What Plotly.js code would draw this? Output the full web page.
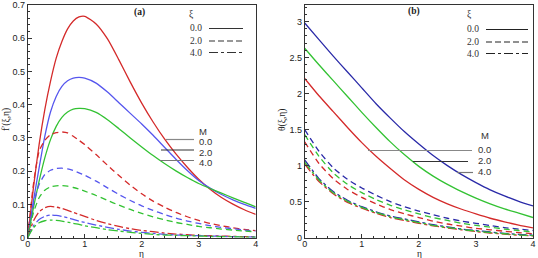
<!DOCTYPE html>
<html>
<head>
<meta charset="utf-8">
<script src="https://cdn.plot.ly/plotly-3.0.1.min.js"></script>
<style>html,body{margin:0;padding:0;background:#fff;}#chart{width:538px;height:258px;}</style>
</head>
<body>
<div id="chart"></div>
<script>
// ---- Data: panel (a) velocity profiles f'(xi,eta) ----
const etaA = [0,0.1,0.2,0.3,0.4,0.5,0.6,0.7,0.8,0.9,1.0,1.2,1.4,1.6,1.8,2.0,2.2,2.4,2.6,2.8,3.0,3.2,3.4,3.6,3.8,4.0];
// xi = 0.0 (solid)
const fA_M0_xi0 = [0,0.15,0.28,0.385,0.47,0.54,0.59,0.628,0.652,0.664,0.666,0.643,0.598,0.535,0.468,0.405,0.348,0.297,0.252,0.212,0.176,0.146,0.121,0.101,0.084,0.07];
const fA_M2_xi0 = [0,0.11,0.21,0.305,0.378,0.425,0.455,0.472,0.48,0.482,0.48,0.465,0.438,0.406,0.374,0.342,0.308,0.272,0.236,0.202,0.172,0.149,0.13,0.114,0.1,0.088];
const fA_M4_xi0 = [0,0.09,0.17,0.24,0.295,0.335,0.362,0.378,0.387,0.389,0.388,0.377,0.355,0.328,0.3,0.273,0.247,0.223,0.201,0.181,0.163,0.148,0.134,0.12,0.106,0.093];
// xi = 2.0 (dashed)
const fA_M0_xi2 = [0,0.16,0.26,0.293,0.31,0.316,0.318,0.315,0.305,0.293,0.28,0.25,0.218,0.187,0.158,0.132,0.11,0.092,0.076,0.063,0.052,0.043,0.036,0.03,0.025,0.021];
const fA_M2_xi2 = [0,0.1,0.16,0.19,0.203,0.208,0.209,0.207,0.202,0.195,0.188,0.17,0.15,0.13,0.112,0.096,0.082,0.07,0.059,0.05,0.043,0.036,0.031,0.027,0.023,0.02];
const fA_M4_xi2 = [0,0.075,0.12,0.143,0.153,0.156,0.157,0.155,0.151,0.146,0.14,0.127,0.112,0.098,0.085,0.073,0.063,0.054,0.046,0.04,0.034,0.03,0.026,0.023,0.02,0.018];
// xi = 4.0 (dash-dot)
const fA_M0_xi4 = [0,0.05,0.078,0.09,0.094,0.092,0.088,0.082,0.076,0.07,0.064,0.052,0.042,0.034,0.027,0.022,0.018,0.014,0.011,0.009,0.007,0.006,0.005,0.004,0.003,0.003];
const fA_M2_xi4 = [0,0.035,0.055,0.064,0.068,0.067,0.064,0.06,0.055,0.05,0.046,0.038,0.031,0.025,0.02,0.016,0.013,0.01,0.008,0.007,0.006,0.005,0.004,0.003,0.003,0.002];
const fA_M4_xi4 = [0,0.03,0.045,0.051,0.053,0.052,0.05,0.047,0.043,0.04,0.036,0.03,0.024,0.02,0.016,0.013,0.01,0.008,0.007,0.006,0.005,0.004,0.003,0.003,0.002,0.002];

// ---- Data: panel (b) temperature profiles theta(xi,eta) ----
const etaB = [0,0.25,0.5,0.75,1.0,1.25,1.5,1.75,2.0,2.25,2.5,2.75,3.0,3.25,3.5,3.75,4.0];
const tB_M0_xi0 = [2.21,1.97,1.75,1.53,1.32,1.13,0.96,0.8,0.67,0.56,0.47,0.395,0.33,0.27,0.22,0.175,0.135];
const tB_M2_xi0 = [2.98,2.75,2.52,2.3,2.08,1.86,1.66,1.47,1.3,1.14,1.0,0.875,0.765,0.665,0.58,0.505,0.44];
const tB_M4_xi0 = [2.63,2.4,2.18,1.96,1.74,1.53,1.33,1.15,0.99,0.855,0.74,0.64,0.55,0.47,0.4,0.34,0.28];
const tB_M0_xi2 = [1.33,1.03,0.82,0.67,0.56,0.47,0.39,0.33,0.28,0.23,0.19,0.16,0.13,0.11,0.09,0.07,0.055];
const tB_M2_xi2 = [1.5,1.2,0.97,0.81,0.69,0.59,0.5,0.43,0.37,0.32,0.27,0.23,0.2,0.17,0.14,0.12,0.1];
const tB_M4_xi2 = [1.43,1.13,0.9,0.74,0.625,0.53,0.45,0.385,0.33,0.28,0.24,0.2,0.17,0.145,0.12,0.1,0.08];
const tB_M0_xi4 = [1.02,0.78,0.61,0.49,0.41,0.34,0.28,0.24,0.2,0.165,0.135,0.11,0.085,0.065,0.05,0.035,0.025];
const tB_M2_xi4 = [1.08,0.82,0.64,0.52,0.43,0.36,0.3,0.26,0.22,0.18,0.15,0.12,0.1,0.08,0.06,0.045,0.035];
const tB_M4_xi4 = [1.05,0.8,0.625,0.505,0.42,0.35,0.29,0.25,0.21,0.172,0.142,0.115,0.092,0.072,0.055,0.04,0.03];

const xTicks = [0,1,2,3,4];
const legendXi = ["0.0","2.0","4.0"];
const legendM = ["0.0","2.0","4.0"];

// ---- styling ----
const RED = '#d42a2a', BLUE_A = '#5656ee', BLUE_B = '#2a2aa8', GREEN = '#33c233';
const W = 538, H = 258;
const px = x => x / W, py = y => 1 - y / H;

function tr(x, y, color, dash, xa, ya) {
  return {x: x, y: y, type: 'scatter', mode: 'lines', xaxis: xa, yaxis: ya,
    line: {color: color, width: 1.3, dash: dash, shape: 'spline', smoothing: 0.6},
    showlegend: false, hoverinfo: 'skip'};
}
const traces = [
  tr(etaA, fA_M0_xi0, RED, 'solid', 'x', 'y'),
  tr(etaA, fA_M2_xi0, BLUE_A, 'solid', 'x', 'y'),
  tr(etaA, fA_M4_xi0, GREEN, 'solid', 'x', 'y'),
  tr(etaA, fA_M0_xi2, RED, '6px,4px', 'x', 'y'),
  tr(etaA, fA_M2_xi2, BLUE_A, '6px,4px', 'x', 'y'),
  tr(etaA, fA_M4_xi2, GREEN, '6px,4px', 'x', 'y'),
  tr(etaA, fA_M0_xi4, RED, 'dashdot', 'x', 'y'),
  tr(etaA, fA_M2_xi4, BLUE_A, 'dashdot', 'x', 'y'),
  tr(etaA, fA_M4_xi4, GREEN, 'dashdot', 'x', 'y'),
  tr(etaB, tB_M0_xi0, RED, 'solid', 'x2', 'y2'),
  tr(etaB, tB_M2_xi0, BLUE_B, 'solid', 'x2', 'y2'),
  tr(etaB, tB_M4_xi0, GREEN, 'solid', 'x2', 'y2'),
  tr(etaB, tB_M0_xi2, RED, '6px,4px', 'x2', 'y2'),
  tr(etaB, tB_M2_xi2, BLUE_B, '6px,4px', 'x2', 'y2'),
  tr(etaB, tB_M4_xi2, GREEN, '6px,4px', 'x2', 'y2'),
  tr(etaB, tB_M0_xi4, RED, 'dashdot', 'x2', 'y2'),
  tr(etaB, tB_M2_xi4, BLUE_B, 'dashdot', 'x2', 'y2'),
  tr(etaB, tB_M4_xi4, GREEN, 'dashdot', 'x2', 'y2')
];

const tickFont = {family: 'Liberation Sans, Arial, sans-serif', size: 9, color: '#222'};
function axis(extra) {
  return Object.assign({
    showline: true, mirror: true, linecolor: '#333', linewidth: 1,
    ticks: 'inside', ticklen: 4, tickcolor: '#333', tickwidth: 1,
    showgrid: false, zeroline: false, tickfont: tickFont, fixedrange: true
  }, extra);
}
const yTop = py(5), yBot = py(237.7);
const layout = {
  width: W, height: H,
  margin: {l: 0, r: 0, t: 0, b: 0},
  paper_bgcolor: '#fff', plot_bgcolor: '#fff',
  xaxis: axis({domain: [px(27.7), px(255.7)], range: [0, 4], tickvals: xTicks, ticktext: xTicks.map(String),
    ticklabelstandoff: -3,
    minor: {dtick: 0.2, ticks: 'inside', ticklen: 2, tickcolor: '#333'}, anchor: 'y'}),
  yaxis: axis({domain: [yBot, yTop], range: [0, 0.7], dtick: 0.1,
    minor: {dtick: 0.02, ticks: 'inside', ticklen: 2, tickcolor: '#333'}, anchor: 'x'}),
  xaxis2: axis({domain: [px(304.7), px(533)], range: [0, 4], tickvals: xTicks, ticktext: xTicks.map(String),
    ticklabelstandoff: -3,
    minor: {dtick: 0.2, ticks: 'inside', ticklen: 2, tickcolor: '#333'}, anchor: 'y2'}),
  yaxis2: axis({domain: [yBot, yTop], range: [0, 3.23], tickvals: [0,0.5,1,1.5,2,2.5,3], ticktext: ['0','0.5','1','1.5','2','2.5','3'],
    minor: {dtick: 0.1, ticks: 'inside', ticklen: 2, tickcolor: '#333'}, anchor: 'x2'}),
  annotations: [],
  shapes: []
};

const serif = {family: 'Liberation Serif, serif', size: 9.5, color: '#333'};
const sans = {family: 'Liberation Sans, Arial, sans-serif', size: 9.5, color: '#333'};
function ann(x, y, text, font, xanchor, angle, yanchor) {
  layout.annotations.push({xref: 'paper', yref: 'paper', x: px(x), y: py(y), text: text, showarrow: false,
    font: font, xanchor: xanchor || 'left', yanchor: yanchor || 'middle', textangle: angle || 0, borderpad: 0});
}
function seg(x0, x1, y, dash, color) {
  layout.shapes.push({type: 'line', xref: 'paper', yref: 'paper', x0: px(x0), x1: px(x1), y0: py(y), y1: py(y),
    line: {color: color || '#333', width: 1.2, dash: dash}});
}
const dashes = ['solid', '6px,3px', 'dashdot'];

// axis titles
const titleFont = {family: 'Liberation Serif, serif', size: 9.5, color: '#222'};
ann(141, 253.5, 'η', titleFont, 'center');
ann(419, 253.5, 'η', titleFont, 'center');
ann(7, 120, "f′(ξ,η)", {family: 'Liberation Serif, serif', size: 9.5, color: '#222'}, 'center', -90);
ann(283, 120, 'θ(ξ,η)', {family: 'Liberation Serif, serif', size: 9.5, color: '#222'}, 'center', -90);

// panel labels
ann(139, 13, '<b>(a)</b>', {family: 'Liberation Serif, serif', size: 9.5, color: '#222'}, 'center');
ann(414, 12, '<b>(b)</b>', {family: 'Liberation Serif, serif', size: 9.5, color: '#222'}, 'center');

// xi legends
ann(188, 15, 'ξ', serif);
ann(466, 15, 'ξ', serif);
const xiY_A = [28.5, 41, 52.5], xiY_B = [29.5, 42, 53.5];
legendXi.forEach((t, i) => {
  ann(188.5, xiY_A[i], t, serif); seg(209, 243, xiY_A[i], dashes[i], '#333');
  ann(465.5, xiY_B[i], t, serif); seg(486, 528, xiY_B[i], dashes[i], '#222');
});

// M legends
ann(198, 131, 'M', sans);
ann(479.5, 135, 'M', sans);
const mY_A = [141.5, 152, 162.5], mY_B = [149.5, 160.5, 171.5];
const mX0_A = [166, 161, 160], mX1_A = [194, 194, 194];
const mX0_B = [368, 413, 457], mX1_B = [472, 468, 473];
const mCol = ['#888', '#333', '#777'];
legendM.forEach((t, i) => {
  ann(197.5, mY_A[i], t, sans); seg(mX0_A[i], mX1_A[i], mY_A[i] - 2, 'solid', mCol[i]);
  ann(477, mY_B[i], t, sans); seg(mX0_B[i], mX1_B[i], mY_B[i] + 1, 'solid', mCol[i]);
});

Plotly.newPlot('chart', traces, layout, {staticPlot: true, displayModeBar: false});
</script>
</body>
</html>
